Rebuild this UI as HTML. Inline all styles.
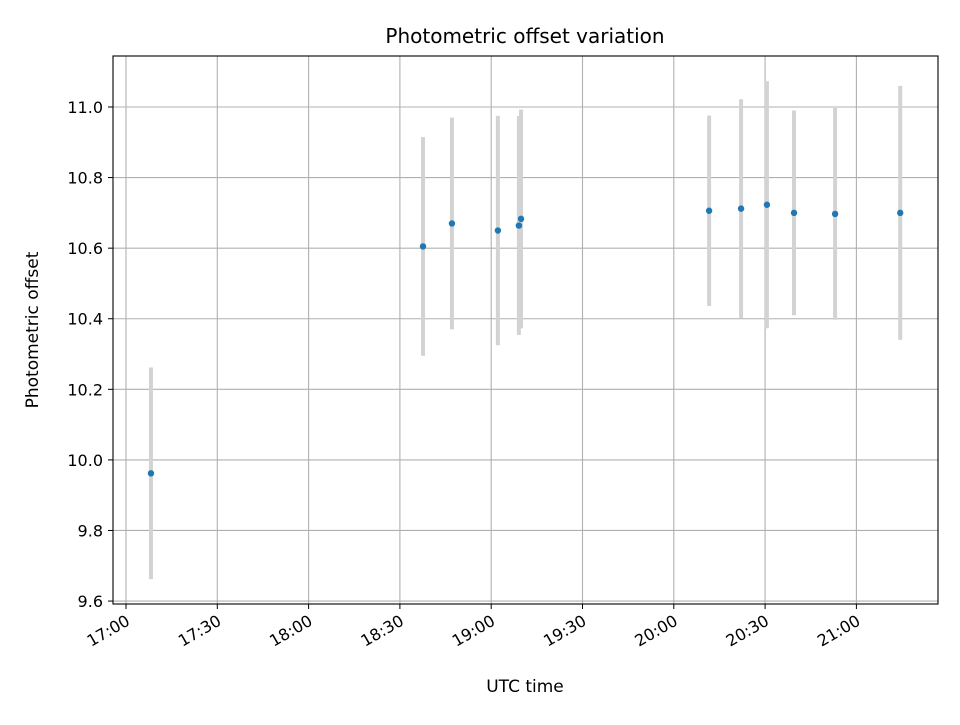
<!DOCTYPE html>
<html><head><meta charset="utf-8"><style>
body{margin:0;background:#fff}
svg{font-family:"DejaVu Sans","Liberation Sans",sans-serif}
</style></head><body>
<svg id="chart" width="960" height="720">
<rect width="960" height="720" fill="#fff"/>
<g id="grid"></g>
<g id="bars"></g>
<g id="pts"></g>
<rect x="113" y="56" width="825" height="548" fill="none" stroke="#000" stroke-width="1.1"/>
<g id="axes"></g>
<text x="525" y="43" font-size="20" text-anchor="middle">Photometric offset variation</text>
<text x="525" y="692" font-size="17" text-anchor="middle">UTC time</text>
<text transform="translate(38,330) rotate(-90)" font-size="17" text-anchor="middle">Photometric offset</text>
</svg>
<script>
const times=[8.2,97.6,107.1,122.2,129.1,129.8,191.6,202.1,210.6,219.5,233,254.4];
const values=[9.962,10.605,10.67,10.65,10.664,10.683,10.706,10.712,10.723,10.70,10.697,10.70];
const errors=[0.30,0.31,0.30,0.325,0.31,0.31,0.27,0.31,0.35,0.29,0.30,0.36];
const xTickLabels=["17:00","17:30","18:00","18:30","19:00","19:30","20:00","20:30","21:00"];
const yTicks=[9.6,9.8,10.0,10.2,10.4,10.6,10.8,11.0];
const NS="http://www.w3.org/2000/svg";
const X=m=>126+m*91.3/30, Y=v=>107+(11-v)*352.9;
function mk(tag,attrs,parent){const e=document.createElementNS(NS,tag);for(const k in attrs)e.setAttribute(k,attrs[k]);document.getElementById(parent).appendChild(e);return e;}
xTickLabels.forEach((l,i)=>{const x=X(i*30);
 let g=mk('line',{x1:x,x2:x,y1:56,y2:604,stroke:'#b0b0b0','stroke-width':1.1},'grid');
 
 let t=mk('line',{x1:x,x2:x,y1:604,y2:609,stroke:'#000'},'axes');
 
 const tx0=x+5, ty0=624;
 let tx=mk('text',{x:tx0,y:ty0,'font-size':16,'text-anchor':'end',transform:`rotate(-30 ${tx0} ${ty0})`},'axes');
 tx.textContent=l;});
yTicks.forEach(v=>{const y=Y(v);
 let g=mk('line',{x1:113,x2:938,y1:y,y2:y,stroke:'#b0b0b0','stroke-width':1.1},'grid');
 
 let t=mk('line',{x1:108,x2:113,y1:y,y2:y,stroke:'#000'},'axes');
 
 let tx=mk('text',{x:103,y:y+6,'font-size':16,'text-anchor':'end'},'axes');
 tx.textContent=v.toFixed(1);});
times.forEach((m,i)=>{const x=X(m);
 let b=mk('line',{x1:x,x2:x,y1:Y(values[i]+errors[i]),y2:Y(values[i]-errors[i]),stroke:'#d3d3d3','stroke-width':4},'bars');
 
 let c=mk('circle',{cx:x,cy:Y(values[i]),r:3.2,fill:'#1f77b4'},'pts');
 });
</script>
</body></html>
